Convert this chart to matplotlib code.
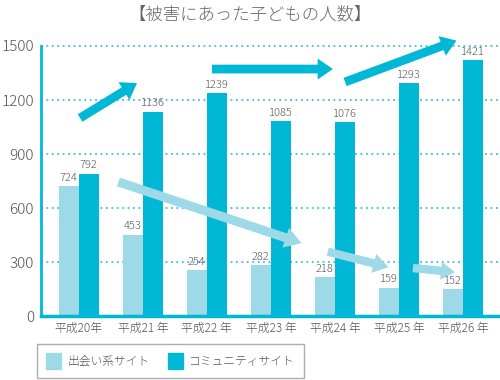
import matplotlib
matplotlib.use("Agg")
import matplotlib.pyplot as plt
import numpy as np
from matplotlib.patches import Patch

plt.rcParams['font.family'] = ['Noto Sans CJK JP', 'DejaVu Sans']
plt.rcParams['font.weight'] = 'light'

# --------- DATA ----------
years = ["平成20年", "平成21 年", "平成22 年", "平成23 年", "平成24 年", "平成25 年", "平成26 年"]
deai = [724, 453, 254, 282, 218, 159, 152]
community = [792, 1136, 1239, 1085, 1076, 1293, 1421]
yticks = [0, 300, 600, 900, 1200, 1500]

LIGHT = "#9dd9e7"
DARK = "#00b8d6"
GRID = "#3cbfdf"
TXT = "#555555"

fig = plt.figure(figsize=(5, 3.8), dpi=100)
ax = fig.add_axes([0.082, 0.168, 0.918, 0.711])

x = np.arange(len(years))
w = 0.3125
ax.bar(x - w / 2, deai, w, color=LIGHT, zorder=2)
ax.bar(x + w / 2, community, w, color=DARK, zorder=2)

for i in range(len(years)):
    ax.text(x[i] - w / 2, deai[i] + 12, str(deai[i]), ha="center", va="bottom",
            fontsize=8, color=TXT, zorder=5)
    ax.text(x[i] + w / 2, community[i] + 12, str(community[i]), ha="center", va="bottom",
            fontsize=8, color=TXT, zorder=5)

ax.set_xlim(-0.59, 6.58)
ax.set_ylim(0, 1500)
ax.set_yticks(yticks)
ax.set_yticklabels([str(v) for v in yticks], fontsize=11, color=TXT)
ax.set_xticks(x)
ax.set_xticklabels(years, fontsize=8.5, color=TXT)
ax.tick_params(axis="y", length=0, pad=5)
ax.tick_params(axis="x", length=0, pad=4)

for v in yticks[1:]:
    ax.axhline(v, color=GRID, lw=1.3, ls=(0, (1, 2)), zorder=1, clip_on=False)

for s in ["top", "right"]:
    ax.spines[s].set_visible(False)
ax.spines["left"].set_color(DARK)
ax.spines["left"].set_linewidth(2)
ax.spines["bottom"].set_color(DARK)
ax.spines["bottom"].set_linewidth(2.5)

# --------- ARROWS ----------
def arrow(tail, tip, color, tw=6.3, hw=15, hl=11):
    ax.annotate("", xy=tip, xytext=tail, zorder=4, annotation_clip=False,
                arrowprops=dict(arrowstyle="simple,tail_width=%g,head_width=%g,head_length=%g" % (tw, hw, hl),
                                mutation_scale=1, color=color, lw=0, shrinkA=0, shrinkB=0))

arrow((0.02, 1100), (0.91, 1294), DARK)
arrow((2.08, 1372), (3.97, 1372), DARK)
arrow((4.16, 1300), (5.9, 1530), DARK)
arrow((0.62, 745), (3.48, 406), LIGHT, tw=6.5, hw=15, hl=12)
arrow((3.89, 358), (4.84, 272), LIGHT, tw=6, hw=14, hl=11)
arrow((5.22, 267), (5.875, 244), LIGHT, tw=6, hw=13, hl=10)

fig.text(0.5, 0.962, "【被害にあった子どもの人数】", ha="center", va="center",
         fontsize=12.5, color="#666666")

handles = [Patch(color=LIGHT), Patch(color=DARK)]
leg = fig.legend(handles, ["出会い系サイト", "コミュニティサイト"], loc="lower left",
                 bbox_to_anchor=(0.074, 0.005), ncol=2, fontsize=8.5, frameon=True,
                 fancybox=False, edgecolor="#999999", handlelength=1.25, handleheight=1.6,
                 handletextpad=0.5, columnspacing=1.6, borderpad=0.8, borderaxespad=0)
for t in leg.get_texts():
    t.set_color(TXT)

fig.savefig("out.png", dpi=100)
